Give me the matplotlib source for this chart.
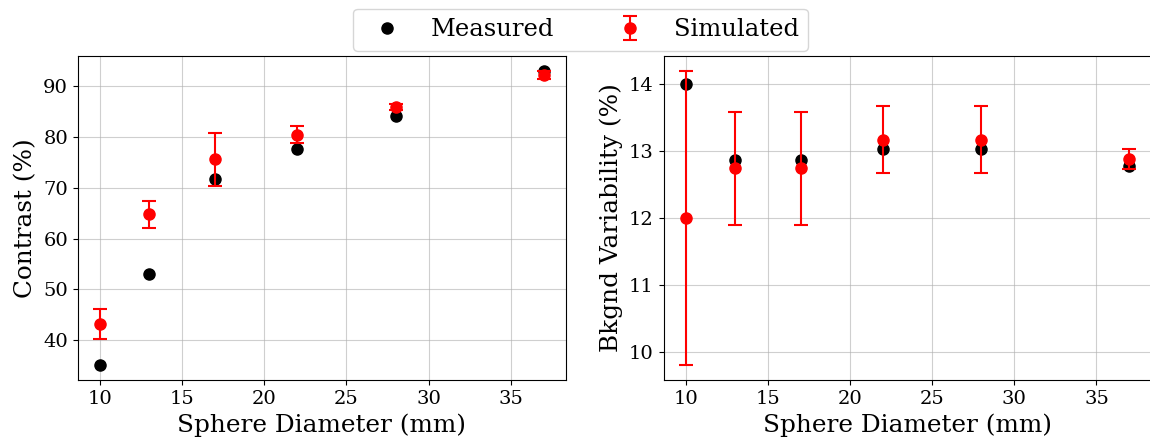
import numpy as np
import matplotlib
matplotlib.use('Agg')
import matplotlib.pyplot as plt

plt.rcParams['font.family'] = 'DejaVu Serif'

diameters = [10, 13, 17, 22, 28, 37]

contrast_meas = [35.0, 53.0, 71.8, 77.7, 84.1, 93.1]
contrast_sim = [43.1, 64.8, 75.6, 80.5, 86.0, 92.3]
contrast_err = [3.0, 2.7, 5.3, 1.65, 0.6, 0.8]

bkg_meas = [14.0, 12.87, 12.87, 13.03, 13.03, 12.77]
bkg_sim = [12.0, 12.74, 12.74, 13.17, 13.17, 12.88]
bkg_err = [2.2, 0.85, 0.85, 0.5, 0.5, 0.15]

fig = plt.figure(figsize=(11.5, 4.43), dpi=100)
ax1 = fig.add_axes([0.0676, 0.1422, 0.4243, 0.7314])
ax2 = fig.add_axes([0.577, 0.1422, 0.4243, 0.7314])

panels = [
    (ax1, contrast_meas, contrast_sim, contrast_err, 'Contrast (%)'),
    (ax2, bkg_meas, bkg_sim, bkg_err, 'Bkgnd Variability (%)'),
]

for ax, meas, sim, err, ylabel in panels:
    ax.plot(diameters, meas, 'o', color='black', markersize=8, label='Measured')
    ax.errorbar(diameters, sim, yerr=err, fmt='o', color='red', ecolor='red',
                markersize=8, capsize=5, elinewidth=1.5, capthick=1.5,
                label='Simulated')
    ax.grid(True, alpha=0.6)
    ax.set_axisbelow(True)
    ax.set_xlabel('Sphere Diameter (mm)', fontsize=17.8)
    ax.set_ylabel(ylabel, fontsize=17.8)
    ax.tick_params(labelsize=14)

handles, labels = ax1.get_legend_handles_labels()
fig.legend(handles, labels, loc='upper center', ncol=2, fontsize=17.5,
           bbox_to_anchor=(0.505, 1.008), columnspacing=2.1)

fig.savefig('out.png', dpi=100)
